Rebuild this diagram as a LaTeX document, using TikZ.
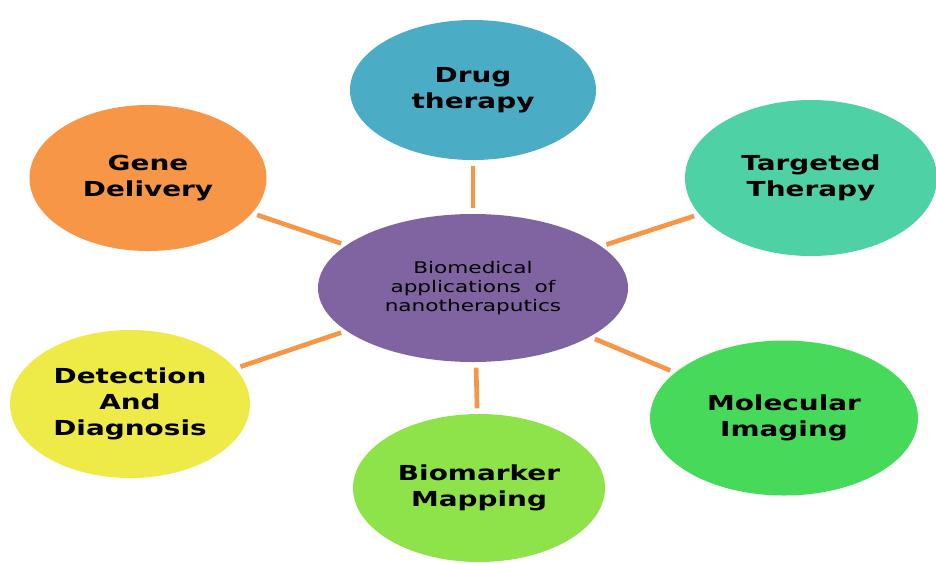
\documentclass[tikz,border=0pt]{standalone}
\usepackage{fontspec}
\setmainfont{DejaVu Sans}[FakeStretch=1.35]
\usetikzlibrary{shapes.geometric}
\definecolor{hubpurple}{HTML}{8064A2}
\definecolor{drugblue}{HTML}{4BACC6}
\definecolor{targetteal}{HTML}{4ED1A5}
\definecolor{geneorange}{HTML}{F79646}
\definecolor{detectyellow}{HTML}{EEEA47}
\definecolor{markerlime}{HTML}{8EE34A}
\definecolor{imaginggreen}{HTML}{47DA5A}
\definecolor{linkorange}{HTML}{F79646}
\tikzset{
  blob/.style={ellipse, inner sep=0pt, align=center,
    font=\bfseries\fontsize{15.5}{19.5}\selectfont},
  hub/.style={ellipse, inner sep=0pt, align=center, fill=hubpurple,
    font=\fontsize{12}{14.5}\selectfont},
  link/.style={draw=linkorange, line width=3.5pt, shorten <=4pt, shorten >=4pt}
}
\begin{document}
\begin{tikzpicture}[x=0.75pt,y=-0.75pt]
  \useasboundingbox (0,0) rectangle (936,562);
  % central topic
  \node[hub, minimum width=310*0.75pt, minimum height=148*0.75pt] (hub) at (473,288)
    {Biomedical\\applications\ \ of\\nanotheraputics};
  % surrounding applications
  \node[blob, fill=drugblue, minimum width=246*0.75pt, minimum height=140*0.75pt] (drug) at (473,90)
    {Drug\\therapy};
  \node[blob, fill=targetteal, minimum width=252*0.75pt, minimum height=156*0.75pt] (target) at (811,178)
    {Targeted\\Therapy};
  \node[blob, fill=geneorange, minimum width=237*0.75pt, minimum height=146*0.75pt] (gene) at (148,178)
    {Gene\\Delivery};
  \node[blob, fill=detectyellow, minimum width=240*0.75pt, minimum height=148*0.75pt] (detect) at (130,404)
    {Detection\\And\\Diagnosis};
  \node[blob, fill=markerlime, minimum width=252*0.75pt, minimum height=148*0.75pt] (marker) at (479,488)
    {Biomarker\\Mapping};
  \node[blob, fill=imaginggreen, minimum width=268*0.75pt, minimum height=155*0.75pt] (imaging) at (784,418)
    {Molecular\\Imaging};
  % connectors
  \draw[link] (hub) -- (drug);
  \draw[link] (hub) -- (target);
  \draw[link] (hub) -- (gene);
  \draw[link] (hub) -- (detect);
  \draw[link] (hub.south) ++(3,0) coordinate (hubs) (hubs) -- (marker);
  \draw[link] (hub) -- (imaging);
\end{tikzpicture}
\end{document}
